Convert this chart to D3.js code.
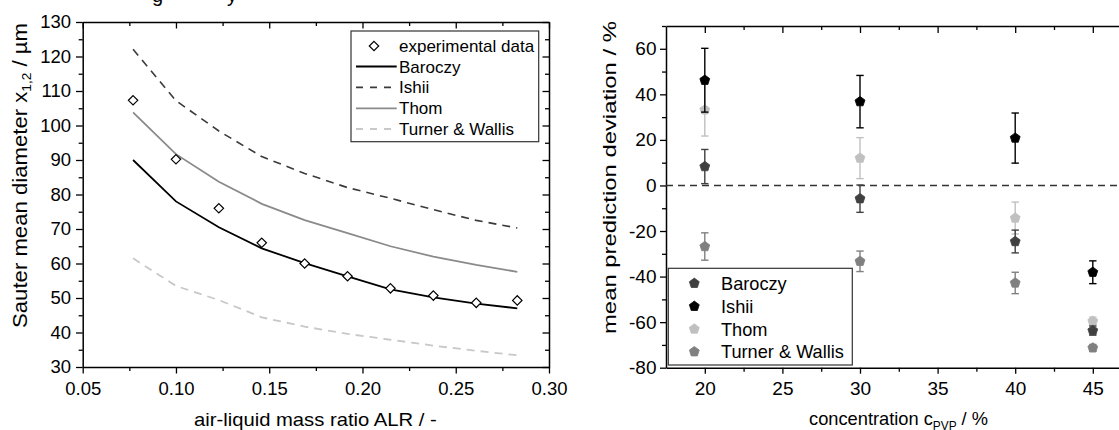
<!DOCTYPE html>
<html>
<head>
<meta charset="utf-8">
<script src="https://cdn.jsdelivr.net/npm/d3@7"></script>
<style>
  html, body { margin: 0; padding: 0; background: #fff; }
  svg { display: block; }
</style>
</head>
<body>
<svg id="chart" width="1119" height="430"></svg>
<script>
// ---------- DATA (left panel) ----------
const alr        = [0.077, 0.100, 0.123, 0.146, 0.169, 0.192, 0.215, 0.238, 0.261, 0.283];
const expData    = [107.3, 90.2, 76.0, 66.0, 60.0, 56.3, 52.8, 50.7, 48.6, 49.3];
const baroczyL   = [90.0, 78.0, 70.5, 64.4, 60.1, 56.3, 52.5, 50.2, 48.4, 47.0];
const ishiiL     = [122.1, 107.2, 98.4, 91.0, 86.1, 82.0, 78.9, 75.6, 72.5, 70.3];
const thomL      = [103.8, 91.7, 83.7, 77.3, 72.6, 68.8, 65.0, 62.0, 59.6, 57.6];
const turnerL    = [61.5, 53.5, 49.4, 44.4, 41.7, 39.6, 37.9, 36.2, 34.7, 33.4];
const xTicksL    = [0.05, 0.10, 0.15, 0.20, 0.25, 0.30];
const yTicksL    = [30, 40, 50, 60, 70, 80, 90, 100, 110, 120, 130];
const legendL    = ["experimental data", "Baroczy", "Ishii", "Thom", "Turner & Wallis"];

// ---------- DATA (right panel) ----------
const conc       = [20, 30, 40, 45];
const baroczyR   = [8.3, -5.8, -24.6, -63.7];
const baroczyErr = [7.5, 6.0, 5.0, 2.0];
const ishiiR     = [46.2, 36.8, 20.8, -38.1];
const ishiiErr   = [14.0, 11.5, 11.0, 5.0];
const thomR      = [33.2, 12.0, -14.3, -59.6];
const thomErr    = [11.5, 9.0, 7.0, 1.8];
const turnerR    = [-26.8, -33.3, -42.8, -71.3];
const turnerErr  = [6.0, 4.5, 4.7, 1.5];
const xTicksR    = [20, 25, 30, 35, 40, 45];
const yTicksR    = [-80, -60, -40, -20, 0, 20, 40, 60];
const legendR    = ["Baroczy", "Ishii", "Thom", "Turner & Wallis"];

const FONT = "'Liberation Sans', Arial, Helvetica, sans-serif";
const svg = d3.select("#chart");

// caption fragments clipped at top edge
svg.append("text").attr("x", 152).attr("y", 2).attr("font-family", FONT).attr("font-size", 20).text("g");
svg.append("text").attr("x", 227).attr("y", 2).attr("font-family", FONT).attr("font-size", 20).text("y");

function mids(arr, extra) {
  const out = [];
  for (let i = 0; i < arr.length - 1; i++) out.push((arr[i] + arr[i + 1]) / 2);
  if (extra !== undefined) out.push(extra);
  return out;
}
function styleAxis(g, fs) {
  g.select(".domain").attr("stroke", "#000").attr("stroke-width", 1.5);
  g.selectAll(".tick line").attr("stroke", "#000").attr("stroke-width", 1.3);
  g.selectAll("text").attr("font-family", FONT).attr("font-size", fs).attr("fill", "#000");
}
function noDomain(g) { g.select(".domain").remove(); }

// ================= LEFT PANEL =================
const xL = d3.scaleLinear().domain([0.05, 0.30]).range([82.7, 549]);
const yL = d3.scaleLinear().domain([30, 130]).range([367, 22]);
const L = svg.append("g");

const xMinorL = mids(xTicksL);
const yMinorL = mids(yTicksL);

// bottom
L.append("g").attr("transform", `translate(0,${yL(30)})`)
  .call(d3.axisBottom(xL).tickValues(xMinorL).tickSize(4).tickFormat("")).call(noDomain).call(g => styleAxis(g, 18.5));
L.append("g").attr("transform", `translate(0,${yL(30)})`)
  .call(d3.axisBottom(xL).tickValues(xTicksL).tickSize(6.5).tickPadding(8.5).tickSizeOuter(0).tickFormat(d3.format(".2f")))
  .call(g => styleAxis(g, 18.5));
// top
L.append("g").attr("transform", `translate(0,${yL(130)})`)
  .call(d3.axisTop(xL).tickValues(xMinorL).tickSize(-4).tickFormat("")).call(noDomain).call(g => styleAxis(g, 18.5));
L.append("g").attr("transform", `translate(0,${yL(130)})`)
  .call(d3.axisTop(xL).tickValues(xTicksL).tickSize(-6.5).tickSizeOuter(0).tickFormat(""))
  .call(g => styleAxis(g, 18.5));
// left
L.append("g").attr("transform", `translate(${xL(0.05)},0)`)
  .call(d3.axisLeft(yL).tickValues(yMinorL).tickSize(4).tickFormat("")).call(noDomain).call(g => styleAxis(g, 18.5));
L.append("g").attr("transform", `translate(${xL(0.05)},0)`)
  .call(d3.axisLeft(yL).tickValues(yTicksL).tickSize(6.7).tickPadding(5).tickSizeOuter(0).tickFormat(d => String(d)))
  .call(g => styleAxis(g, 18.5));
// right
L.append("g").attr("transform", `translate(${xL(0.30)},0)`)
  .call(d3.axisRight(yL).tickValues(yMinorL).tickSize(-4).tickFormat("")).call(noDomain).call(g => styleAxis(g, 18.5));
L.append("g").attr("transform", `translate(${xL(0.30)},0)`)
  .call(d3.axisRight(yL).tickValues(yTicksL).tickSize(-6.5).tickSizeOuter(0).tickFormat(""))
  .call(g => styleAxis(g, 18.5));

// lines
const seriesL = [
  { name: "Ishii",   vals: ishiiL,   color: "#3a3a3a", dash: "8,6", w: 1.6 },
  { name: "Thom",    vals: thomL,    color: "#8a8a8a", dash: null,  w: 1.8 },
  { name: "Turner",  vals: turnerL,  color: "#c8c8c8", dash: "8,6", w: 1.8 },
  { name: "Baroczy", vals: baroczyL, color: "#000000", dash: null,  w: 1.8 },
];
const lineL = d3.line().x(d => xL(d[0])).y(d => yL(d[1]));
seriesL.forEach(s => {
  L.append("path")
    .attr("d", lineL(alr.map((a, i) => [a, s.vals[i]])))
    .attr("fill", "none").attr("stroke", s.color).attr("stroke-width", s.w)
    .attr("stroke-dasharray", s.dash);
});
const diamondPath = "M0,-4.7L4.7,0L0,4.7L-4.7,0Z";
L.selectAll(".dia").data(alr.map((a, i) => [a, expData[i]])).enter().append("path")
  .attr("d", diamondPath)
  .attr("transform", d => `translate(${xL(d[0])},${yL(d[1])})`)
  .attr("fill", "#fff").attr("stroke", "#000").attr("stroke-width", 1.2);

// left legend
const lg = L.append("g");
lg.append("rect").attr("x", 351).attr("y", 31).attr("width", 187.7).attr("height", 110.7)
  .attr("fill", "#fff").attr("stroke", "#333").attr("stroke-width", 1.2);
const legStyleL = [
  { sym: "dia" },
  { color: "#000000", dash: null },
  { color: "#3a3a3a", dash: "7,7" },
  { color: "#8a8a8a", dash: null },
  { color: "#c8c8c8", dash: "7,7" },
];
const rowsL = [46, 66.5, 87.3, 108.3, 129];
legendL.forEach((name, i) => {
  const y = rowsL[i];
  const st = legStyleL[i];
  if (st.sym) {
    lg.append("path").attr("d", diamondPath).attr("transform", `translate(374,${y})`)
      .attr("fill", "#fff").attr("stroke", "#000").attr("stroke-width", 1.2);
  } else {
    lg.append("line").attr("x1", 356).attr("x2", 396.7).attr("y1", y).attr("y2", y)
      .attr("stroke", st.color).attr("stroke-width", 1.8).attr("stroke-dasharray", st.dash);
  }
  lg.append("text").attr("x", 399).attr("y", y).attr("dy", "0.36em")
    .attr("font-family", FONT).attr("font-size", 17).text(name);
});

// left titles
const xtL = L.append("text").attr("x", 194).attr("y", 426)
  .attr("font-family", FONT).attr("font-size", 19)
  .attr("textLength", 242.7).attr("lengthAdjust", "spacingAndGlyphs")
  .text("air-liquid mass ratio ALR / -");
const ytL = L.append("text")
  .attr("transform", "translate(27,328) rotate(-90)")
  .attr("font-family", FONT).attr("font-size", 19.5)
  .attr("textLength", 305).attr("lengthAdjust", "spacingAndGlyphs");
ytL.append("tspan").text("Sauter mean diameter x");
ytL.append("tspan").attr("font-size", 12).attr("dy", 4).text("1,2");
ytL.append("tspan").attr("dy", -4).text(" / µm");

// ================= RIGHT PANEL =================
const xR = d3.scaleLinear().domain([17.5, 47.5]).range([666, 1131.6]);
const yR = d3.scaleLinear().domain([-80, 70]).range([367.7, 26]);
const R = svg.append("g");

const xMinorR = mids(xTicksR, 47.5);
const yMinorR = mids(yTicksR, 70);

R.append("g").attr("transform", `translate(0,${yR(-80)})`)
  .call(d3.axisBottom(xR).tickValues(xMinorR).tickSize(4).tickFormat("")).call(noDomain).call(g => styleAxis(g, 19));
R.append("g").attr("transform", `translate(0,${yR(-80)})`)
  .call(d3.axisBottom(xR).tickValues(xTicksR).tickSize(6).tickPadding(8).tickSizeOuter(0).tickFormat(d => String(d)))
  .call(g => styleAxis(g, 19));
R.append("g").attr("transform", `translate(0,${yR(70)})`)
  .call(d3.axisTop(xR).tickValues(xMinorR).tickSize(-4).tickFormat("")).call(noDomain).call(g => styleAxis(g, 19));
R.append("g").attr("transform", `translate(0,${yR(70)})`)
  .call(d3.axisTop(xR).tickValues(xTicksR).tickSize(-7).tickSizeOuter(0).tickFormat(""))
  .call(g => styleAxis(g, 19));
R.append("g").attr("transform", `translate(${xR(17.5)},0)`)
  .call(d3.axisLeft(yR).tickValues(yMinorR).tickSize(4).tickFormat("")).call(noDomain).call(g => styleAxis(g, 19));
R.append("g").attr("transform", `translate(${xR(17.5)},0)`)
  .call(d3.axisLeft(yR).tickValues(yTicksR).tickSize(6).tickPadding(3.5).tickSizeOuter(0).tickFormat(d => String(d)))
  .call(g => styleAxis(g, 19));

// zero line
R.append("line").attr("x1", xR(17.5)).attr("x2", xR(47.5)).attr("y1", yR(0)).attr("y2", yR(0))
  .attr("stroke", "#333").attr("stroke-width", 1.5).attr("stroke-dasharray", "7,5");

function pentagon(r) {
  const pts = d3.range(5).map(k => {
    const a = (-90 + k * 72) * Math.PI / 180;
    return [r * Math.cos(a), r * Math.sin(a)];
  });
  return "M" + pts.map(p => p[0].toFixed(2) + "," + p[1].toFixed(2)).join("L") + "Z";
}
const penta = pentagon(5.2);

const seriesR = [
  { name: "Thom",    vals: thomR,    err: thomErr,    color: "#c0c0c0" },
  { name: "Turner",  vals: turnerR,  err: turnerErr,  color: "#808080" },
  { name: "Baroczy", vals: baroczyR, err: baroczyErr, color: "#404040" },
  { name: "Ishii",   vals: ishiiR,   err: ishiiErr,   color: "#000000" },
];
seriesR.forEach(s => {
  const g = R.append("g");
  conc.forEach((c, i) => {
    const x = xR(c), y1 = yR(s.vals[i] - s.err[i]), y2 = yR(s.vals[i] + s.err[i]);
    g.append("line").attr("x1", x).attr("x2", x).attr("y1", y1).attr("y2", y2)
      .attr("stroke", s.color).attr("stroke-width", 1.4);
    [y1, y2].forEach(yy => g.append("line").attr("x1", x - 3.7).attr("x2", x + 3.7).attr("y1", yy).attr("y2", yy)
      .attr("stroke", s.color).attr("stroke-width", 1.4));
    g.append("path").attr("d", penta).attr("transform", `translate(${x},${yR(s.vals[i])})`)
      .attr("fill", s.color).attr("stroke", s.color).attr("stroke-width", 0.8);
  });
});

// right legend
const lgR = R.append("g");
lgR.append("rect").attr("x", 668.3).attr("y", 268.3).attr("width", 184).attr("height", 96.7)
  .attr("fill", "#fff").attr("stroke", "#333").attr("stroke-width", 1.2);
const legColR = ["#404040", "#000000", "#c0c0c0", "#808080"];
const rowsR = [283.3, 306.3, 329, 351.7];
legendR.forEach((name, i) => {
  lgR.append("path").attr("d", penta).attr("transform", `translate(694.3,${rowsR[i]})`)
    .attr("fill", legColR[i]).attr("stroke", legColR[i]).attr("stroke-width", 0.8);
  lgR.append("text").attr("x", 721).attr("y", rowsR[i]).attr("dy", "0.36em")
    .attr("font-family", FONT).attr("font-size", 18.2).text(name);
});

// right titles
const xtR = R.append("text").attr("x", 809).attr("y", 425)
  .attr("font-family", FONT).attr("font-size", 18.5)
  .attr("textLength", 179).attr("lengthAdjust", "spacingAndGlyphs");
xtR.append("tspan").text("concentration c");
xtR.append("tspan").attr("font-size", 12).attr("dy", 5).text("PVP");
xtR.append("tspan").attr("dy", -5).text(" / %");

R.append("text").attr("transform", "translate(616,334) rotate(-90)")
  .attr("font-family", FONT).attr("font-size", 19)
  .attr("textLength", 313).attr("lengthAdjust", "spacingAndGlyphs")
  .text("mean prediction deviation / %");
</script>
</body>
</html>
